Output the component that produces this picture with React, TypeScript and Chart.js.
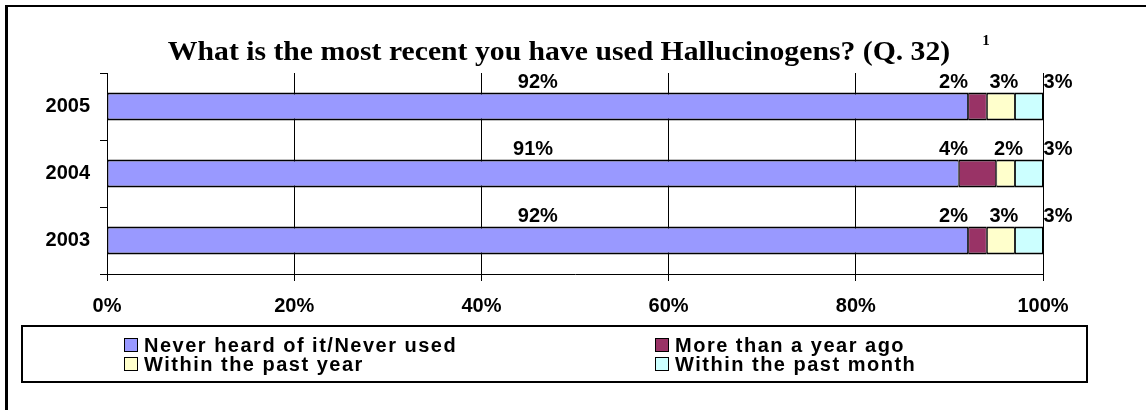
import { useEffect, useRef } from "react";
import { Chart, registerables } from "chart.js";

Chart.register(...registerables);

// ---- data ----
const categories = ["2005", "2004", "2003"];
const seriesNames = [
  "Never heard of it/Never used",
  "More than a year ago",
  "Within the past year",
  "Within the past month",
];
const neverUsed = [92, 91, 92];
const moreThanYear = [2, 4, 2];
const pastYear = [3, 2, 3];
const pastMonth = [3, 3, 3];
const xTickValues = [0, 20, 40, 60, 80, 100];
const titleText = "What is the most recent you have used Hallucinogens? (Q. 32)";
const footnoteMark = "1";

// ---- style ----
const colors = ["#9999FF", "#993366", "#FFFFCC", "#CCFFFF"];
const labelOffsets = [0, -24, 3, 29];
const SANS = '"Liberation Sans", Arial, sans-serif';
const SERIF = '"Liberation Serif", "Times New Roman", serif';

const decor = {
  id: "decor",
  afterDatasetsDraw(chart: any) {
    const ctx = chart.ctx;
    ctx.save();
    ctx.font = `bold 20px ${SANS}`;
    ctx.fillStyle = "#000";
    ctx.textAlign = "center";
    ctx.textBaseline = "alphabetic";
    chart.data.datasets.forEach((ds: any, i: number) => {
      const meta = chart.getDatasetMeta(i);
      meta.data.forEach((el: any, j: number) => {
        const { x, base, y, height } = el.getProps(["x", "base", "y", "height"], true);
        const cx = (x + base) / 2 + labelOffsets[i];
        ctx.fillText(ds.data[j] + "%", cx, y - height / 2 - 4);
      });
    });
    ctx.restore();
  },
  afterDraw(chart: any) {
    const ctx = chart.ctx;
    ctx.save();
    // outer frame
    ctx.fillStyle = "#000";
    ctx.fillRect(5, 5, 3, 410);
    ctx.fillRect(5, 5, 1141, 2);

    // title
    ctx.save();
    ctx.font = `bold 27px ${SERIF}`;
    ctx.textAlign = "center";
    ctx.textBaseline = "alphabetic";
    ctx.translate(559, 59.5);
    ctx.scale(1.1, 1);
    ctx.fillText(titleText, 0, 0);
    ctx.restore();

    ctx.font = `bold 15px ${SERIF}`;
    ctx.textAlign = "center";
    ctx.fillText(footnoteMark, 986, 45);

    // legend
    ctx.lineWidth = 2;
    ctx.strokeStyle = "#000";
    ctx.strokeRect(22, 326, 1065, 56);
    const colX = [124, 655];
    const rowBase = [352, 371];
    ctx.font = `bold 20px ${SANS}`;
    ctx.textAlign = "left";
    (ctx as any).letterSpacing = "1.5px";
    chart.data.datasets.forEach((ds: any, i: number) => {
      const cx = colX[i % 2];
      const by = rowBase[Math.floor(i / 2)];
      ctx.fillStyle = ds.backgroundColor;
      ctx.fillRect(cx, by - 14, 14, 14);
      ctx.lineWidth = 1;
      ctx.strokeRect(cx + 0.5, by - 13.5, 13, 13);
      ctx.fillStyle = "#000";
      ctx.fillText(ds.label, cx + 20, by);
    });
    ctx.restore();
  },
};

export default function App() {
  const ref = useRef<HTMLCanvasElement>(null);

  useEffect(() => {
    const values = [neverUsed, moreThanYear, pastYear, pastMonth];
    const chart = new Chart(ref.current as HTMLCanvasElement, {
      type: "bar",
      data: {
        labels: categories,
        datasets: seriesNames.map((name, i) => ({
          label: name,
          data: values[i],
          backgroundColor: colors[i],
          borderColor: "#000",
          borderWidth: { top: 2, bottom: 2, left: 1, right: 1 },
          borderSkipped: false,
          barPercentage: 0.42,
          categoryPercentage: 1,
        })),
      },
      options: {
        indexAxis: "y",
        responsive: false,
        animation: false,
        devicePixelRatio: 1,
        layout: { padding: { left: 0, right: 103, top: 73, bottom: 0 } },
        plugins: {
          legend: { display: false },
          title: { display: false },
          tooltip: { enabled: false },
        },
        scales: {
          x: {
            type: "linear",
            stacked: true,
            min: 0,
            max: 100,
            position: "bottom",
            grid: { color: "#000", lineWidth: 1, tickLength: 7 },
            border: { display: true, color: "#000", width: 1 },
            ticks: {
              callback: (v: any) => v + "%",
              font: { family: SANS, size: 20, weight: "bold" },
              color: "#000",
              padding: 13,
              maxRotation: 0,
              autoSkip: false,
            },
            afterBuildTicks: (s: any) => {
              s.ticks = xTickValues.map((v) => ({ value: v }));
            },
            afterFit: (s: any) => {
              s.height = 136;
            },
          },
          y: {
            type: "category",
            stacked: true,
            grid: { drawOnChartArea: false, color: "#000", tickLength: 7, offset: true },
            border: { display: true, color: "#000", width: 1 },
            ticks: {
              font: { family: SANS, size: 20, weight: "bold" },
              color: "#000",
              padding: 10,
            },
            afterFit: (s: any) => {
              s.width = 107;
            },
          },
        },
      },
      plugins: [decor],
    } as any);
    return () => chart.destroy();
  }, []);

  return (
    <div
      style={{
        position: "absolute",
        left: 0,
        top: 0,
        width: 1146,
        height: 410,
        background: "#fff",
      }}
    >
      <canvas
        ref={ref}
        width={1146}
        height={410}
        style={{ display: "block", width: 1146, height: 410 }}
      />
    </div>
  );
}
